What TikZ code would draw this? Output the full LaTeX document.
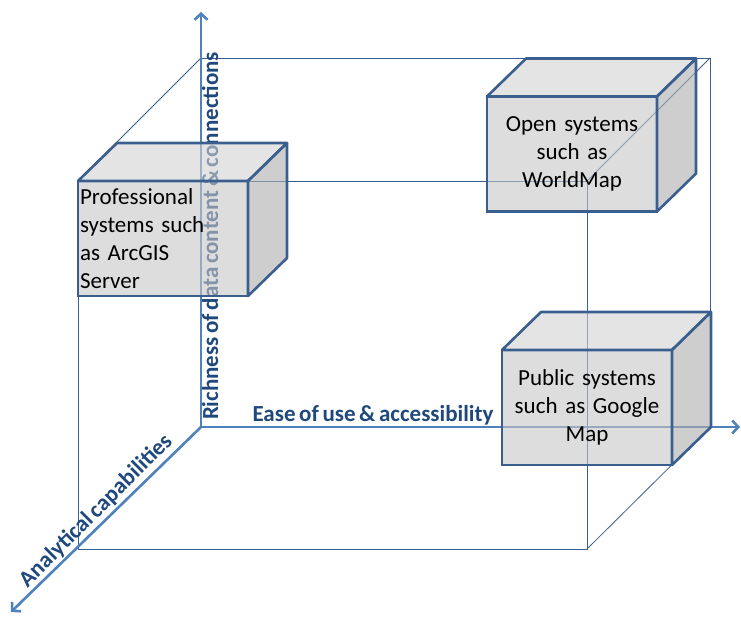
\documentclass[tikz,border=0pt]{standalone}
\usepackage{fontspec}
\setmainfont{Carlito}[WordSpace=0.7]
\usetikzlibrary{arrows.meta}

\definecolor{axisblue}{HTML}{4F81BD}
\definecolor{boxline}{HTML}{3A5F8E}
\definecolor{labelblue}{HTML}{1F497D}
\definecolor{frontgray}{HTML}{C6C6C6}
\definecolor{topgray}{HTML}{D2D2D2}
\definecolor{sidegray}{HTML}{AEAEAE}

\begin{document}
\begin{tikzpicture}[x=1pt, y=-1pt, >={Straight Barb[length=6pt,width=13pt]},
    frame/.style={draw=boxline, line width=0.8pt},
    axis/.style={axisblue, line width=2.6pt},
    axislabel/.style={text=labelblue, inner sep=0pt, font=\fontsize{23}{27}\selectfont\bfseries},
    sysbox/.style={draw=boxline, line width=2.6pt, fill=frontgray, fill opacity=0.6, text opacity=1,
        minimum width=170pt, minimum height=115pt, outer sep=0pt, inner sep=2pt,
        font=\fontsize{23}{28}\selectfont},
    topface/.style={draw=boxline, line width=2.6pt, line join=round, fill=topgray, fill opacity=0.6},
    sideface/.style={draw=boxline, line width=2.6pt, line join=round, fill=sidegray, fill opacity=0.6}]

    \useasboundingbox (0,0) rectangle (741,616);

    % wire cube
    \draw[frame] (78,181) rectangle (587,549);
    \draw[frame] (201,58) -- (710,58) -- (710,427);
    \draw[frame] (78,181) -- (201,58) (587,181) -- (710,58) (587,549) -- (710,427);

    % axes
    \coordinate (origin) at (201,427);
    \coordinate (ytip) at (201,12);
    \coordinate (xtip) at (740,427);
    \coordinate (ztip) at (11,612);

    \node[axislabel, anchor=base] (xlabel) at (373,421) {Ease of use \& accessibility};
    \node[axislabel, anchor=base, rotate=90] (ylabel) at (218,236) {Richness of data content \& connections};
    \node[axislabel, rotate=45] (zlabel) at (96,511) {Analytical capabilities};

    \draw[axis, ->] (origin) -- (ytip);
    \draw[axis, ->] (origin) -- (xtip);
    \draw[axis, ->] (origin) -- (ztip);

    % systems
    \node[sysbox, text width=166pt, align=left] (prof) at (163,238.5)
        {Professional\\systems such\\as ArcGIS\\Server};
    \node[sysbox, text width=166pt, align=center] (open) at (572,154)
        {Open systems\\such as\\WorldMap};
    \node[sysbox, text width=166pt, align=center] (public) at (587,407.5)
        {Public systems\\such as Google\\Map};

    \foreach \b in {prof, open, public}{
        \filldraw[topface] (\b.north west) -- ++(39,-38) -- ++(170,0) -- (\b.north east) -- cycle;
        \filldraw[sideface] (\b.north east) -- ++(39,-38) -- ++(0,115) -- (\b.south east) -- cycle;
    }
\end{tikzpicture}
\end{document}
